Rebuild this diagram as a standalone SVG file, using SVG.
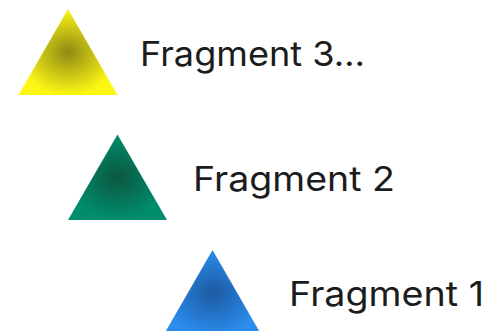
<svg xmlns="http://www.w3.org/2000/svg" width="487" height="331" viewBox="0 0 487 331">
<style>
text{font-family:Inter,"Liberation Sans",sans-serif;font-size:34.5px;fill:#1c1c1c}
</style>
<defs>
<radialGradient id="gy"><stop offset="0" stop-color="#8f8a14"/><stop offset="1" stop-color="#fbf614"/></radialGradient>
<radialGradient id="gg"><stop offset="0" stop-color="#0b5840"/><stop offset="1" stop-color="#008d6e"/></radialGradient>
<radialGradient id="gb"><stop offset="0" stop-color="#1c5aa0"/><stop offset="1" stop-color="#2b8cee"/></radialGradient>
</defs>
<g id="fragment3">
<polygon points="68,9 117.5,95 18.5,95" fill="url(#gy)"/>
<text x="140" y="66" textLength="225" lengthAdjust="spacingAndGlyphs">Fragment 3…</text>
</g>
<g id="fragment2">
<polygon points="117.5,134.5 167,220 68,220" fill="url(#gg)"/>
<text x="193" y="191" textLength="202" lengthAdjust="spacingAndGlyphs">Fragment 2</text>
</g>
<g id="fragment1">
<polygon points="212.5,250 262,336 163,336" fill="url(#gb)"/>
<text x="289" y="306" textLength="195" lengthAdjust="spacingAndGlyphs">Fragment 1</text>
</g>
<g id="connectors"/>
</svg>
